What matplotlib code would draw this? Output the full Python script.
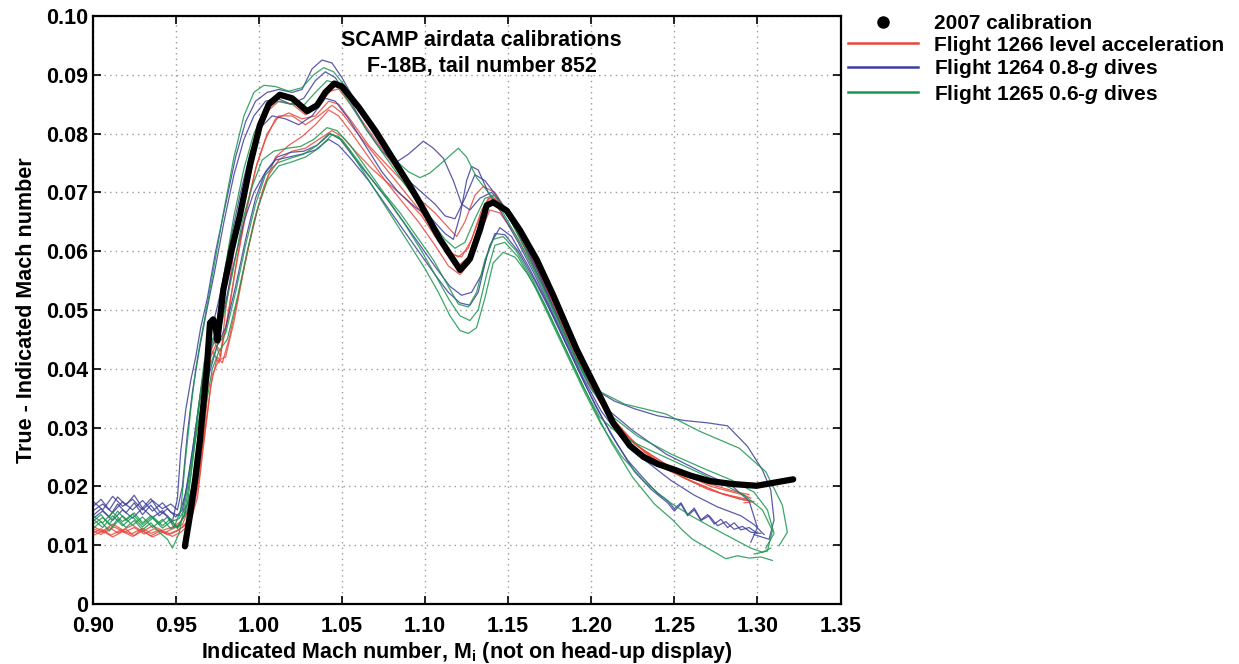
"""
    SCAMP airdata calibration plot
"""

# Import relevant libraries
import matplotlib
matplotlib.use("Agg")
import matplotlib.pyplot as plt
from matplotlib.lines import Line2D

plt.rcParams["font.family"] = ["Liberation Sans"]
plt.rcParams["font.weight"] = "bold"
plt.rcParams["mathtext.fontset"] = "custom"
plt.rcParams["mathtext.rm"] = "Liberation Sans:bold"
plt.rcParams["mathtext.bf"] = "Liberation Sans:bold"
plt.rcParams["mathtext.it"] = "Liberation Sans:italic:bold"

# 2007 calibration (indicated Mach, true - indicated Mach)
cal_m = [0.9555, 0.9585, 0.9617, 0.9646, 0.9686, 0.9706, 0.9725, 0.9740, 0.9750,
         0.9786, 0.9836, 0.9886, 0.9950, 1.0006, 1.0060, 1.0126, 1.0200, 1.0290,
         1.0350, 1.0400, 1.0454, 1.0500, 1.0600, 1.0700, 1.0800, 1.0900, 1.0969,
         1.1090, 1.1211, 1.1270, 1.1331, 1.1371, 1.1410, 1.1491, 1.1570, 1.1671,
         1.1771, 1.1912, 1.2032, 1.2132, 1.2233, 1.2315, 1.2400, 1.2494, 1.2600,
         1.2714, 1.2850, 1.2995, 1.3115, 1.3215]
cal_dm = [0.0098, 0.0150, 0.0212, 0.0280, 0.0398, 0.0478, 0.0484, 0.0472, 0.0448,
          0.0534, 0.0602, 0.0661, 0.0750, 0.0814, 0.0850, 0.0866, 0.0860, 0.0838,
          0.0848, 0.0870, 0.0885, 0.0880, 0.0845, 0.0805, 0.0760, 0.0715, 0.0682,
          0.0620, 0.0568, 0.0587, 0.0637, 0.0678, 0.0683, 0.0669, 0.0636, 0.0586,
          0.0525, 0.0433, 0.0365, 0.0308, 0.0269, 0.0250, 0.0238, 0.0229, 0.0218,
          0.0209, 0.0204, 0.0201, 0.0207, 0.0212]

# Flight 1266 level acceleration traces
red_a = [(0.900, 0.0125), (0.905, 0.0118), (0.910, 0.0130), (0.915, 0.0121), (0.920, 0.0127),
         (0.925, 0.0116), (0.930, 0.0129), (0.935, 0.0120), (0.940, 0.0126), (0.945, 0.0118),
         (0.950, 0.0124), (0.955, 0.0132), (0.960, 0.0150), (0.964, 0.0210), (0.968, 0.0320),
         (0.971, 0.0420), (0.974, 0.0440), (0.977, 0.0420), (0.980, 0.0500), (0.985, 0.0600),
         (0.990, 0.0680), (0.995, 0.0750), (1.000, 0.0800), (1.006, 0.0840), (1.012, 0.0855),
         (1.020, 0.0850), (1.028, 0.0832), (1.035, 0.0845), (1.043, 0.0872), (1.048, 0.0876),
         (1.055, 0.0850), (1.065, 0.0810), (1.075, 0.0770), (1.085, 0.0730), (1.095, 0.0690),
         (1.105, 0.0640), (1.113, 0.0595), (1.120, 0.0575), (1.126, 0.0590), (1.132, 0.0640),
         (1.138, 0.0680), (1.142, 0.0690), (1.150, 0.0660), (1.160, 0.0610), (1.170, 0.0555),
         (1.180, 0.0495), (1.190, 0.0430), (1.200, 0.0370), (1.210, 0.0320), (1.225, 0.0268),
         (1.245, 0.0229), (1.270, 0.0195), (1.290, 0.0178), (1.298, 0.0174), (1.292, 0.0172)]
red_b = [(0.900, 0.0132), (0.906, 0.0124), (0.912, 0.0136), (0.918, 0.0126), (0.924, 0.0134),
         (0.930, 0.0123), (0.936, 0.0133), (0.942, 0.0125), (0.948, 0.0131), (0.953, 0.0140),
         (0.958, 0.0160), (0.962, 0.0230), (0.966, 0.0330), (0.969, 0.0400), (0.972, 0.0430),
         (0.976, 0.0410), (0.980, 0.0470), (0.986, 0.0570), (0.992, 0.0660), (0.998, 0.0740),
         (1.004, 0.0790), (1.010, 0.0825), (1.018, 0.0835), (1.026, 0.0825), (1.034, 0.0830),
         (1.042, 0.0855), (1.048, 0.0850), (1.056, 0.0820), (1.066, 0.0780), (1.076, 0.0750),
         (1.086, 0.0720), (1.096, 0.0690), (1.106, 0.0665), (1.114, 0.0640), (1.119, 0.0625),
         (1.124, 0.0650), (1.130, 0.0695), (1.135, 0.0710), (1.142, 0.0700), (1.150, 0.0665),
         (1.160, 0.0615), (1.170, 0.0560), (1.180, 0.0500), (1.190, 0.0435), (1.200, 0.0375),
         (1.212, 0.0318), (1.228, 0.0268), (1.250, 0.0228), (1.272, 0.0200), (1.292, 0.0185),
         (1.296, 0.0180)]
red_c = [(0.900, 0.0120), (0.905, 0.0128), (0.911, 0.0117), (0.917, 0.0126), (0.923, 0.0119),
         (0.929, 0.0127), (0.935, 0.0116), (0.941, 0.0125), (0.947, 0.0119), (0.952, 0.0126),
         (0.957, 0.0140), (0.962, 0.0190), (0.967, 0.0280), (0.971, 0.0370), (0.975, 0.0420),
         (0.978, 0.0410), (0.982, 0.0450), (0.988, 0.0530), (0.994, 0.0610), (1.000, 0.0680),
         (1.006, 0.0730), (1.012, 0.0755), (1.020, 0.0770), (1.028, 0.0775), (1.036, 0.0790),
         (1.044, 0.0805), (1.050, 0.0795), (1.058, 0.0770), (1.068, 0.0740), (1.078, 0.0715),
         (1.088, 0.0690), (1.098, 0.0660), (1.106, 0.0625), (1.114, 0.0600), (1.120, 0.0590),
         (1.126, 0.0605), (1.132, 0.0650), (1.138, 0.0690), (1.144, 0.0685), (1.152, 0.0650),
         (1.162, 0.0600), (1.172, 0.0545), (1.182, 0.0485), (1.192, 0.0420), (1.202, 0.0360),
         (1.215, 0.0305), (1.232, 0.0258), (1.255, 0.0215), (1.278, 0.0188), (1.294, 0.0178)]
red_d = [(0.900, 0.0128), (0.907, 0.0121), (0.913, 0.0131), (0.919, 0.0122), (0.925, 0.0130),
         (0.931, 0.0119), (0.937, 0.0128), (0.943, 0.0121), (0.949, 0.0129), (0.954, 0.0135),
         (0.959, 0.0170), (0.963, 0.0250), (0.967, 0.0350), (0.970, 0.0420), (0.973, 0.0445),
         (0.977, 0.0430), (0.981, 0.0480), (0.987, 0.0590), (0.993, 0.0680), (0.999, 0.0750),
         (1.005, 0.0800), (1.012, 0.0830), (1.020, 0.0830), (1.028, 0.0815), (1.036, 0.0830),
         (1.044, 0.0848), (1.050, 0.0835), (1.058, 0.0805), (1.068, 0.0770), (1.078, 0.0735),
         (1.088, 0.0700), (1.098, 0.0665), (1.108, 0.0625), (1.116, 0.0595), (1.122, 0.0590),
         (1.128, 0.0620), (1.134, 0.0670), (1.140, 0.0695), (1.148, 0.0670), (1.158, 0.0620),
         (1.168, 0.0565), (1.178, 0.0505), (1.188, 0.0440), (1.198, 0.0380), (1.210, 0.0322),
         (1.226, 0.0272), (1.248, 0.0232), (1.270, 0.0205), (1.288, 0.0190), (1.295, 0.0186)]
red_e = [(0.900, 0.0116), (0.906, 0.0124), (0.912, 0.0114), (0.918, 0.0123), (0.924, 0.0115),
         (0.930, 0.0124), (0.936, 0.0114), (0.942, 0.0122), (0.948, 0.0115), (0.953, 0.0122),
         (0.958, 0.0135), (0.963, 0.0180), (0.968, 0.0300), (0.972, 0.0390), (0.976, 0.0415),
         (0.980, 0.0420), (0.985, 0.0480), (0.991, 0.0570), (0.997, 0.0650), (1.003, 0.0710),
         (1.010, 0.0760), (1.018, 0.0780), (1.026, 0.0795), (1.034, 0.0815), (1.042, 0.0840),
         (1.048, 0.0830), (1.056, 0.0800), (1.066, 0.0760), (1.076, 0.0720), (1.086, 0.0685),
         (1.096, 0.0650), (1.106, 0.0610), (1.114, 0.0575), (1.121, 0.0560), (1.127, 0.0580),
         (1.133, 0.0630), (1.139, 0.0670), (1.145, 0.0665), (1.154, 0.0630), (1.164, 0.0580),
         (1.174, 0.0525), (1.184, 0.0465), (1.194, 0.0405), (1.204, 0.0348), (1.218, 0.0295),
         (1.236, 0.0250), (1.258, 0.0212), (1.280, 0.0186), (1.293, 0.0176)]

# Flight 1264 0.8-g dives traces
blue_a = [(0.900, 0.0165), (0.905, 0.0178), (0.910, 0.0160), (0.915, 0.0182), (0.920, 0.0168),
          (0.925, 0.0185), (0.930, 0.0163), (0.935, 0.0179), (0.940, 0.0158), (0.945, 0.0150),
          (0.948, 0.0140), (0.951, 0.0180), (0.953, 0.0260), (0.956, 0.0330), (0.959, 0.0380),
          (0.962, 0.0420), (0.965, 0.0470), (0.969, 0.0520), (0.974, 0.0600), (0.980, 0.0680),
          (0.986, 0.0760), (0.992, 0.0820), (0.998, 0.0855), (1.005, 0.0870), (1.012, 0.0875),
          (1.020, 0.0870), (1.026, 0.0875), (1.032, 0.0910), (1.038, 0.0925), (1.044, 0.0920),
          (1.050, 0.0895), (1.058, 0.0855), (1.068, 0.0805), (1.078, 0.0760), (1.088, 0.0725),
          (1.098, 0.0700), (1.106, 0.0680), (1.112, 0.0660), (1.118, 0.0655), (1.124, 0.0690),
          (1.130, 0.0730), (1.136, 0.0720), (1.144, 0.0690), (1.152, 0.0650), (1.162, 0.0595),
          (1.172, 0.0535), (1.182, 0.0470), (1.192, 0.0410), (1.202, 0.0365), (1.214, 0.0345),
          (1.226, 0.0332), (1.240, 0.0320), (1.256, 0.0312), (1.270, 0.0308), (1.282, 0.0303),
          (1.294, 0.0268), (1.303, 0.0228), (1.308, 0.0194), (1.310, 0.0143), (1.307, 0.0110),
          (1.298, 0.0118)]
blue_b = [(0.900, 0.0150), (0.905, 0.0162), (0.910, 0.0148), (0.915, 0.0170), (0.920, 0.0155),
          (0.925, 0.0172), (0.930, 0.0152), (0.935, 0.0168), (0.940, 0.0150), (0.945, 0.0162),
          (0.950, 0.0148), (0.954, 0.0160), (0.958, 0.0220), (0.962, 0.0300), (0.966, 0.0380),
          (0.970, 0.0430), (0.974, 0.0460), (0.979, 0.0500), (0.985, 0.0580), (0.991, 0.0650),
          (0.997, 0.0700), (1.003, 0.0730), (1.010, 0.0755), (1.018, 0.0760), (1.026, 0.0765),
          (1.034, 0.0772), (1.042, 0.0790), (1.048, 0.0780), (1.056, 0.0755), (1.066, 0.0720),
          (1.076, 0.0680), (1.086, 0.0640), (1.096, 0.0600), (1.106, 0.0560), (1.114, 0.0530),
          (1.121, 0.0512), (1.127, 0.0508), (1.132, 0.0530), (1.137, 0.0590), (1.142, 0.0630),
          (1.148, 0.0628), (1.156, 0.0600), (1.166, 0.0550), (1.176, 0.0495), (1.186, 0.0435),
          (1.196, 0.0375), (1.206, 0.0320), (1.216, 0.0270), (1.226, 0.0225), (1.236, 0.0195),
          (1.246, 0.0172), (1.250, 0.0158), (1.254, 0.0170), (1.258, 0.0150), (1.262, 0.0160),
          (1.266, 0.0142), (1.271, 0.0150), (1.276, 0.0133), (1.281, 0.0140), (1.286, 0.0127),
          (1.291, 0.0132), (1.296, 0.0122), (1.302, 0.0120)]
blue_c = [(0.900, 0.0175), (0.906, 0.0160), (0.912, 0.0183), (0.918, 0.0166), (0.924, 0.0178),
          (0.930, 0.0160), (0.936, 0.0176), (0.942, 0.0162), (0.947, 0.0170), (0.951, 0.0160),
          (0.954, 0.0200), (0.957, 0.0290), (0.960, 0.0360), (0.964, 0.0430), (0.968, 0.0490),
          (0.973, 0.0560), (0.979, 0.0650), (0.985, 0.0730), (0.991, 0.0790), (0.997, 0.0830),
          (1.004, 0.0855), (1.011, 0.0860), (1.019, 0.0850), (1.027, 0.0860), (1.034, 0.0890),
          (1.040, 0.0905), (1.046, 0.0895), (1.054, 0.0860), (1.064, 0.0810), (1.074, 0.0770),
          (1.082, 0.0750), (1.090, 0.0765), (1.099, 0.0787), (1.105, 0.0775), (1.111, 0.0758),
          (1.117, 0.0720), (1.122, 0.0680), (1.127, 0.0670), (1.133, 0.0690), (1.140, 0.0700),
          (1.148, 0.0675), (1.158, 0.0625), (1.168, 0.0565), (1.178, 0.0500), (1.188, 0.0435),
          (1.198, 0.0375), (1.208, 0.0335), (1.225, 0.0295), (1.245, 0.0255), (1.268, 0.0222),
          (1.285, 0.0200), (1.295, 0.0175), (1.300, 0.0130), (1.296, 0.0105)]
blue_d = [(0.900, 0.0158), (0.906, 0.0170), (0.912, 0.0155), (0.918, 0.0174), (0.924, 0.0160),
          (0.930, 0.0176), (0.936, 0.0158), (0.942, 0.0172), (0.947, 0.0156), (0.952, 0.0150),
          (0.956, 0.0190), (0.960, 0.0260), (0.964, 0.0340), (0.968, 0.0420), (0.972, 0.0470),
          (0.977, 0.0530), (0.983, 0.0620), (0.989, 0.0700), (0.995, 0.0770), (1.001, 0.0810),
          (1.008, 0.0830), (1.016, 0.0825), (1.024, 0.0815), (1.032, 0.0830), (1.040, 0.0860),
          (1.046, 0.0855), (1.054, 0.0825), (1.064, 0.0780), (1.074, 0.0735), (1.084, 0.0700),
          (1.094, 0.0675), (1.104, 0.0655), (1.112, 0.0630), (1.117, 0.0620), (1.121, 0.0660),
          (1.125, 0.0720), (1.128, 0.0744), (1.132, 0.0738), (1.138, 0.0700), (1.146, 0.0665),
          (1.156, 0.0615), (1.166, 0.0560), (1.176, 0.0500), (1.186, 0.0440), (1.196, 0.0380),
          (1.206, 0.0328), (1.218, 0.0283), (1.232, 0.0245), (1.248, 0.0210), (1.262, 0.0185),
          (1.276, 0.0165), (1.290, 0.0150), (1.298, 0.0135), (1.304, 0.0118)]
blue_e = [(0.900, 0.0145), (0.906, 0.0158), (0.912, 0.0142), (0.918, 0.0160), (0.924, 0.0146),
          (0.930, 0.0163), (0.936, 0.0147), (0.942, 0.0159), (0.947, 0.0140), (0.951, 0.0130),
          (0.955, 0.0150), (0.960, 0.0200), (0.965, 0.0300), (0.970, 0.0390), (0.975, 0.0440),
          (0.980, 0.0470), (0.986, 0.0540), (0.992, 0.0620), (0.998, 0.0690), (1.004, 0.0735),
          (1.011, 0.0760), (1.019, 0.0768), (1.027, 0.0770), (1.035, 0.0780), (1.043, 0.0800),
          (1.049, 0.0790), (1.057, 0.0760), (1.067, 0.0725), (1.077, 0.0690), (1.087, 0.0650),
          (1.097, 0.0610), (1.107, 0.0570), (1.115, 0.0540), (1.122, 0.0525), (1.128, 0.0530),
          (1.134, 0.0560), (1.139, 0.0610), (1.145, 0.0640), (1.152, 0.0625), (1.162, 0.0575),
          (1.172, 0.0520), (1.182, 0.0460), (1.192, 0.0400), (1.202, 0.0340), (1.212, 0.0288),
          (1.222, 0.0244), (1.232, 0.0212), (1.240, 0.0188), (1.246, 0.0176), (1.250, 0.0162),
          (1.254, 0.0172), (1.258, 0.0152), (1.262, 0.0163), (1.266, 0.0143), (1.270, 0.0152),
          (1.274, 0.0136), (1.278, 0.0144), (1.282, 0.0130), (1.286, 0.0138), (1.290, 0.0126),
          (1.295, 0.0130), (1.300, 0.0120)]

# Flight 1265 0.6-g dives traces
green_a = [(0.900, 0.0140), (0.905, 0.0152), (0.910, 0.0135), (0.915, 0.0158), (0.920, 0.0142),
           (0.925, 0.0155), (0.930, 0.0138), (0.935, 0.0150), (0.940, 0.0136), (0.945, 0.0148),
           (0.949, 0.0130), (0.953, 0.0160), (0.956, 0.0250), (0.959, 0.0330), (0.962, 0.0400),
           (0.965, 0.0450), (0.969, 0.0510), (0.974, 0.0590), (0.979, 0.0670), (0.985, 0.0760),
           (0.991, 0.0830), (0.997, 0.0870), (1.003, 0.0882), (1.010, 0.0880), (1.018, 0.0872),
           (1.026, 0.0878), (1.033, 0.0900), (1.039, 0.0912), (1.045, 0.0905), (1.052, 0.0880),
           (1.060, 0.0845), (1.070, 0.0800), (1.080, 0.0760), (1.090, 0.0735), (1.097, 0.0725),
           (1.103, 0.0733), (1.112, 0.0755), (1.120, 0.0775), (1.125, 0.0760), (1.131, 0.0725),
           (1.138, 0.0700), (1.146, 0.0670), (1.156, 0.0620), (1.166, 0.0565), (1.176, 0.0505),
           (1.186, 0.0445), (1.196, 0.0390), (1.206, 0.0360), (1.220, 0.0340), (1.245, 0.0323),
           (1.265, 0.0294), (1.289, 0.0265), (1.305, 0.0225), (1.315, 0.0168), (1.318, 0.0122),
           (1.313, 0.0099)]
green_b = [(0.900, 0.0128), (0.905, 0.0140), (0.910, 0.0124), (0.915, 0.0145), (0.920, 0.0130),
           (0.925, 0.0142), (0.930, 0.0126), (0.935, 0.0138), (0.940, 0.0122), (0.945, 0.0110),
           (0.948, 0.0095), (0.952, 0.0120), (0.956, 0.0180), (0.960, 0.0250), (0.965, 0.0330),
           (0.970, 0.0400), (0.975, 0.0440), (0.980, 0.0460), (0.986, 0.0530), (0.992, 0.0610),
           (0.998, 0.0680), (1.004, 0.0730), (1.011, 0.0750), (1.019, 0.0758), (1.027, 0.0765),
           (1.035, 0.0780), (1.042, 0.0800), (1.048, 0.0795), (1.055, 0.0770), (1.064, 0.0730),
           (1.073, 0.0690), (1.082, 0.0650), (1.091, 0.0610), (1.100, 0.0570), (1.108, 0.0530),
           (1.115, 0.0490), (1.121, 0.0465), (1.126, 0.0460), (1.131, 0.0470), (1.136, 0.0520),
           (1.141, 0.0580), (1.147, 0.0598), (1.154, 0.0590), (1.162, 0.0560), (1.172, 0.0510),
           (1.182, 0.0450), (1.192, 0.0390), (1.202, 0.0330), (1.212, 0.0275), (1.225, 0.0215),
           (1.238, 0.0170), (1.249, 0.0143), (1.255, 0.0125), (1.261, 0.0110), (1.270, 0.0095),
           (1.281, 0.0077), (1.288, 0.0082), (1.295, 0.0078), (1.302, 0.0080), (1.309, 0.0074)]
green_c = [(0.900, 0.0150), (0.906, 0.0138), (0.912, 0.0156), (0.918, 0.0140), (0.924, 0.0153),
           (0.930, 0.0135), (0.936, 0.0149), (0.942, 0.0133), (0.947, 0.0145), (0.951, 0.0128),
           (0.955, 0.0150), (0.959, 0.0220), (0.963, 0.0320), (0.967, 0.0410), (0.970, 0.0440),
           (0.974, 0.0460), (0.979, 0.0560), (0.985, 0.0660), (0.991, 0.0740), (0.997, 0.0800),
           (1.004, 0.0840), (1.011, 0.0855), (1.019, 0.0850), (1.027, 0.0848), (1.034, 0.0870),
           (1.041, 0.0890), (1.047, 0.0885), (1.055, 0.0850), (1.065, 0.0805), (1.075, 0.0765),
           (1.085, 0.0725), (1.095, 0.0685), (1.104, 0.0650), (1.112, 0.0620), (1.118, 0.0605),
           (1.124, 0.0615), (1.130, 0.0655), (1.136, 0.0690), (1.142, 0.0695), (1.150, 0.0660),
           (1.160, 0.0605), (1.170, 0.0545), (1.180, 0.0485), (1.190, 0.0420), (1.200, 0.0365),
           (1.212, 0.0320), (1.228, 0.0285), (1.248, 0.0255), (1.268, 0.0230), (1.285, 0.0210),
           (1.298, 0.0190), (1.306, 0.0160), (1.310, 0.0120), (1.305, 0.0095)]
green_d = [(0.900, 0.0135), (0.906, 0.0147), (0.912, 0.0131), (0.918, 0.0150), (0.924, 0.0134),
           (0.930, 0.0148), (0.936, 0.0130), (0.942, 0.0144), (0.947, 0.0128), (0.952, 0.0135),
           (0.957, 0.0160), (0.962, 0.0230), (0.967, 0.0320), (0.972, 0.0400), (0.976, 0.0430),
           (0.981, 0.0450), (0.987, 0.0520), (0.993, 0.0600), (0.999, 0.0670), (1.005, 0.0720),
           (1.012, 0.0745), (1.020, 0.0752), (1.028, 0.0760), (1.036, 0.0775), (1.044, 0.0798),
           (1.050, 0.0790), (1.058, 0.0760), (1.068, 0.0722), (1.078, 0.0685), (1.088, 0.0645),
           (1.098, 0.0600), (1.107, 0.0555), (1.115, 0.0515), (1.121, 0.0490), (1.127, 0.0482),
           (1.132, 0.0500), (1.137, 0.0560), (1.142, 0.0610), (1.148, 0.0615), (1.156, 0.0590),
           (1.166, 0.0540), (1.176, 0.0480), (1.186, 0.0420), (1.196, 0.0360), (1.206, 0.0305),
           (1.218, 0.0252), (1.232, 0.0208), (1.246, 0.0175), (1.260, 0.0150), (1.274, 0.0128),
           (1.286, 0.0110), (1.296, 0.0095), (1.303, 0.0088), (1.308, 0.0095)]
green_e = [(0.900, 0.0145), (0.906, 0.0130), (0.912, 0.0150), (0.918, 0.0133), (0.924, 0.0148),
           (0.930, 0.0131), (0.936, 0.0146), (0.942, 0.0129), (0.947, 0.0140), (0.952, 0.0145),
           (0.957, 0.0170), (0.961, 0.0260), (0.965, 0.0360), (0.969, 0.0420), (0.973, 0.0445),
           (0.978, 0.0480), (0.984, 0.0560), (0.990, 0.0650), (0.996, 0.0710), (1.002, 0.0755),
           (1.009, 0.0770), (1.017, 0.0775), (1.025, 0.0778), (1.033, 0.0790), (1.041, 0.0810),
           (1.047, 0.0805), (1.055, 0.0780), (1.065, 0.0740), (1.075, 0.0700), (1.085, 0.0665),
           (1.095, 0.0625), (1.105, 0.0585), (1.113, 0.0545), (1.120, 0.0510), (1.126, 0.0505),
           (1.131, 0.0530), (1.136, 0.0585), (1.141, 0.0620), (1.147, 0.0625), (1.155, 0.0600),
           (1.165, 0.0550), (1.175, 0.0490), (1.185, 0.0430), (1.195, 0.0370), (1.205, 0.0318),
           (1.218, 0.0285), (1.235, 0.0262), (1.255, 0.0236), (1.275, 0.0210), (1.292, 0.0185),
           (1.303, 0.0160), (1.309, 0.0125), (1.306, 0.0090), (1.298, 0.0085)]

red_traces = [red_a, red_b, red_c, red_d, red_e]
blue_traces = [blue_a, blue_b, blue_c, blue_d, blue_e]
green_traces = [green_a, green_b, green_c, green_d, green_e]

series_labels = ["2007 calibration",
                 "Flight 1266 level acceleration",
                 "Flight 1264 0.8-$g$ dives",
                 "Flight 1265 0.6-$g$ dives"]
series_colors = ["black", "#e8473b", "#3d3f9c", "#1a964d"]

x_ticks = [0.90, 0.95, 1.00, 1.05, 1.10, 1.15, 1.20, 1.25, 1.30, 1.35]
y_ticks = [0, 0.01, 0.02, 0.03, 0.04, 0.05, 0.06, 0.07, 0.08, 0.09, 0.10]


def plot_traces(ax, traces, color):
    """draws each flight trace as a thin line"""
    for trace in traces:
        ms = [p[0] for p in trace]
        dms = [p[1] for p in trace]
        ax.plot(ms, dms, color=color, lw=0.9, alpha=0.85, zorder=2)


fig = plt.figure(figsize=(12.39, 6.64), dpi=100)
ax = fig.add_axes([0.0748, 0.0904, 0.6036, 0.8856])

plot_traces(ax, red_traces, series_colors[1])
plot_traces(ax, blue_traces, series_colors[2])
plot_traces(ax, green_traces, series_colors[3])

# 2007 calibration drawn as a thick band on top
ax.plot(cal_m, cal_dm, color="black", lw=4.5, solid_capstyle="round",
        solid_joinstyle="round", zorder=4)

ax.set_xlim(0.90, 1.35)
ax.set_ylim(0, 0.10)
ax.set_xticks(x_ticks)
ax.set_yticks(y_ticks)
ax.set_xticklabels(["%.2f" % v for v in x_ticks])
ax.set_yticklabels(["0"] + ["%.2f" % v for v in y_ticks[1:]])
ax.tick_params(direction="in", length=6, width=1.2, labelsize=15.5,
               top=True, right=True)
ax.tick_params(axis="x", pad=9)
ax.tick_params(axis="y", pad=3)
for lab in ax.get_xticklabels() + ax.get_yticklabels():
    lab.set_fontweight("bold")
for sp in ax.spines.values():
    sp.set_linewidth(1.6)
ax.grid(True, color="#999999", linestyle=(0, (1, 3)), linewidth=1.0)

ax.set_xlabel("Indicated Mach number, M$_\\mathrm{i}$ (not on head-up display)",
              fontsize=15.5, fontweight="bold", labelpad=2)
ax.set_ylabel("True - Indicated Mach number", fontsize=15.5, fontweight="bold",
              labelpad=7)

ax.text(1.134, 0.0976, "SCAMP airdata calibrations\nF-18B, tail number 852",
        ha="center", va="top", fontsize=15.5, fontweight="bold",
        linespacing=1.3, zorder=5)

# Legend outside the axes on the right
handles = [Line2D([], [], color="black", marker="o", markersize=8, linestyle="none")]
for color in series_colors[1:]:
    handles.append(Line2D([], [], color=color, lw=1.8))
fig.legend(handles, series_labels, loc="upper left", bbox_to_anchor=(0.669, 1.007),
           frameon=False, handlelength=3.4, handletextpad=0.75,
           labelspacing=0.12, prop={"weight": "bold", "size": 15})

plt.savefig("out.png", dpi=100)
